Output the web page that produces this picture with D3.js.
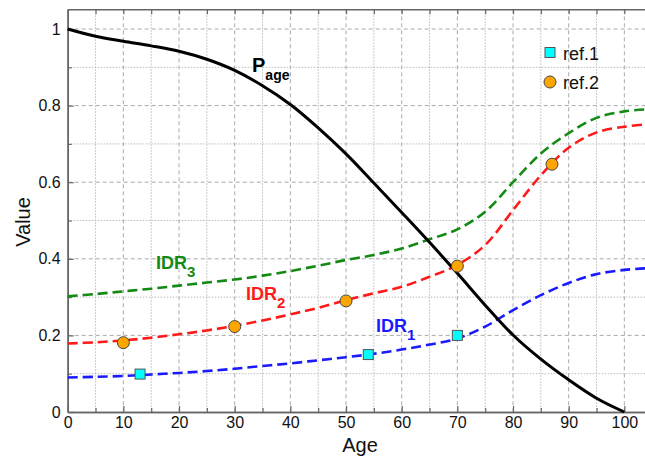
<!DOCTYPE html>
<html lang="en">
<head>
    <meta charset="UTF-8">
    <style>
        body { margin: 0; background: #fff; }
        svg { display: block; font-family: "Liberation Sans", Arial, Helvetica, sans-serif; }
    </style>
</head>
<body>
    <script src="https://d3js.org/d3.v7.min.js"></script>
    <div id="here"></div>

    <script>
        const ages = [0, 5, 10, 15, 20, 25, 30, 35, 40, 45, 50, 55, 60, 65, 70, 75, 80, 85, 90, 95, 100, 103.8];

        const pAge = [1.0, 0.981, 0.968, 0.956, 0.942, 0.921, 0.892, 0.852, 0.803, 0.742, 0.674, 0.598, 0.521, 0.443, 0.362, 0.279, 0.201, 0.138, 0.084, 0.036, 0.0];
        const idr1 = [0.09, 0.092, 0.094, 0.098, 0.102, 0.107, 0.113, 0.12, 0.127, 0.135, 0.143, 0.152, 0.163, 0.176, 0.192, 0.223, 0.266, 0.305, 0.337, 0.36, 0.371, 0.375];
        const idr2 = [0.179, 0.182, 0.187, 0.194, 0.203, 0.213, 0.225, 0.239, 0.255, 0.272, 0.292, 0.31, 0.327, 0.353, 0.384, 0.436, 0.527, 0.618, 0.69, 0.73, 0.745, 0.751];
        const idr3 = [0.302, 0.308, 0.315, 0.322, 0.33, 0.338, 0.346, 0.356, 0.368, 0.382, 0.397, 0.41, 0.427, 0.451, 0.477, 0.523, 0.6, 0.675, 0.728, 0.768, 0.785, 0.79];

        // reference points
        const ref1Age = [13, 54, 70];
        const ref1Val = [0.099, 0.150, 0.200];
        const ref2Age = [10, 30, 50, 70, 87];
        const ref2Val = [0.181, 0.223, 0.290, 0.381, 0.647];

        const xTicks = [0, 10, 20, 30, 40, 50, 60, 70, 80, 90, 100];
        const yTicks = [0, 0.2, 0.4, 0.6, 0.8, 1];
        const yTickLabels = ["0", "0.2", "0.4", "0.6", "0.8", "1"];

        const W = 645, H = 458;
        const pLeft = 67.7, pTop = 9.3, pBottom = 412, pRight = 645.5;

        const svg = d3.select("#here").append("svg")
            .attr("width", W).attr("height", H);

        const x = d3.scaleLinear().domain([0, 103.8]).range([pLeft, pRight]);
        const y = d3.scaleLinear().domain([0, 1.0515]).range([pBottom, pTop]);

        const minorX = d3.range(5, 104, 10);
        const minorY = d3.range(0.1, 1.05, 0.2);

        // grid
        const grid = svg.append("g");
        grid.selectAll(".gxm").data(minorX).join("line")
            .attr("x1", d => x(d)).attr("x2", d => x(d)).attr("y1", pTop).attr("y2", pBottom)
            .attr("stroke", "#bbb").attr("stroke-width", 1).attr("stroke-dasharray", "1.5,1.5");
        grid.selectAll(".gym").data(minorY).join("line")
            .attr("y1", d => y(d)).attr("y2", d => y(d)).attr("x1", pLeft).attr("x2", pRight)
            .attr("stroke", "#bbb").attr("stroke-width", 1).attr("stroke-dasharray", "1.5,1.5");
        grid.selectAll(".gx").data(xTicks.slice(1)).join("line")
            .attr("x1", d => x(d)).attr("x2", d => x(d)).attr("y1", pTop).attr("y2", pBottom)
            .attr("stroke", "#aaa").attr("stroke-width", 1).attr("stroke-dasharray", "4,3");
        grid.selectAll(".gy").data(yTicks.slice(1)).join("line")
            .attr("y1", d => y(d)).attr("y2", d => y(d)).attr("x1", pLeft).attr("x2", pRight)
            .attr("stroke", "#aaa").attr("stroke-width", 1).attr("stroke-dasharray", "4,3");

        // axes (ticks point inward)
        const axisColor = "#666";
        const styleAxis = g => {
            g.select(".domain").attr("stroke", axisColor).attr("stroke-width", 1.5);
            g.selectAll(".tick line").attr("stroke", axisColor).attr("stroke-width", 1.2);
            g.selectAll(".tick text").attr("fill", "#111").style("font-size", "16px")
                .style("font-family", "\"Liberation Sans\", Arial, sans-serif");
        };

        svg.append("g").attr("transform", `translate(0,${pBottom})`)
            .call(d3.axisBottom(x).tickValues(minorX).tickSize(-4).tickSizeOuter(0).tickFormat(""))
            .call(styleAxis);
        svg.append("g").attr("transform", `translate(0,${pBottom})`)
            .call(d3.axisBottom(x).tickValues(xTicks).tickSize(-6).tickSizeOuter(0).tickPadding(5).tickFormat(d3.format("d")))
            .call(styleAxis);
        svg.append("g").attr("transform", `translate(0,${pTop})`)
            .call(d3.axisTop(x).tickValues(xTicks.concat(minorX)).tickSize(-5).tickSizeOuter(0).tickFormat(""))
            .call(styleAxis);
        svg.append("g").attr("transform", `translate(${pLeft},0)`)
            .call(d3.axisLeft(y).tickValues(minorY).tickSize(-4).tickSizeOuter(0).tickFormat(""))
            .call(styleAxis);
        svg.append("g").attr("transform", `translate(${pLeft},0)`)
            .call(d3.axisLeft(y).tickValues(yTicks).tickSize(-6).tickSizeOuter(0).tickPadding(7)
                .tickFormat((d, i) => yTickLabels[i]))
            .call(styleAxis);

        // curves
        const line = d3.line().x(d => x(d[0])).y(d => y(d[1])).curve(d3.curveCatmullRom.alpha(0.5));
        const series = [
            { vals: idr3, color: "#138a13", dash: "10,5" },
            { vals: idr2, color: "#ff1a1a", dash: "10,5" },
            { vals: idr1, color: "#1a1aff", dash: "10,5" },
            { vals: pAge, color: "#000", dash: null }
        ];
        series.forEach(s => {
            svg.append("path")
                .datum(s.vals.map((v, i) => [ages[i], v]))
                .attr("d", line)
                .attr("fill", "none")
                .attr("stroke", s.color)
                .attr("stroke-width", s.dash ? 2.6 : 3)
                .attr("stroke-dasharray", s.dash);
        });

        // reference markers
        svg.selectAll(".r2").data(ref2Age).join("circle")
            .attr("cx", d => x(d)).attr("cy", (d, i) => y(ref2Val[i])).attr("r", 6)
            .attr("fill", "#ffa500").attr("stroke", "#444").attr("stroke-width", 1);
        svg.selectAll(".r1").data(ref1Age).join("rect")
            .attr("x", d => x(d) - 5).attr("y", (d, i) => y(ref1Val[i]) - 5)
            .attr("width", 10).attr("height", 10)
            .attr("fill", "#00ffff").attr("stroke", "#555").attr("stroke-width", 1);

        // curve labels
        const label = (tx, ty, main, sub, color, size, subSize, subDy) => {
            const t = svg.append("text").attr("x", tx).attr("y", ty)
                .attr("fill", color).style("font-weight", "bold").style("font-size", size + "px");
            t.append("tspan").text(main);
            t.append("tspan").attr("dy", subDy).style("font-size", subSize + "px").text(sub);
        };
        label(252, 72, "P", "age", "#000", 20, 14, 8);
        label(156, 269, "IDR", "3", "#138a13", 18, 15, 8);
        label(246, 300, "IDR", "2", "#ff1a1a", 18, 15, 8);
        label(376, 332, "IDR", "1", "#1a1aff", 18, 15, 8);

        // legend
        const legend = svg.append("g");
        legend.append("rect").attr("x", 545).attr("y", 47.5).attr("width", 10).attr("height", 10)
            .attr("fill", "#00ffff").attr("stroke", "#555").attr("stroke-width", 1);
        legend.append("text").attr("x", 563).attr("y", 60).style("font-size", "18px").attr("fill", "#111").text("ref.1");
        legend.append("circle").attr("cx", 550).attr("cy", 82).attr("r", 6)
            .attr("fill", "#ffa500").attr("stroke", "#444").attr("stroke-width", 1);
        legend.append("text").attr("x", 563).attr("y", 89).style("font-size", "18px").attr("fill", "#111").text("ref.2");

        // axis titles
        svg.append("text").attr("x", 360).attr("y", 452).attr("text-anchor", "middle")
            .style("font-size", "20px").attr("fill", "#111").text("Age");
        svg.append("text").attr("transform", "translate(30,222) rotate(-90)").attr("text-anchor", "middle")
            .style("font-size", "20px").attr("fill", "#111").text("Value");
    </script>
</body>
</html>
